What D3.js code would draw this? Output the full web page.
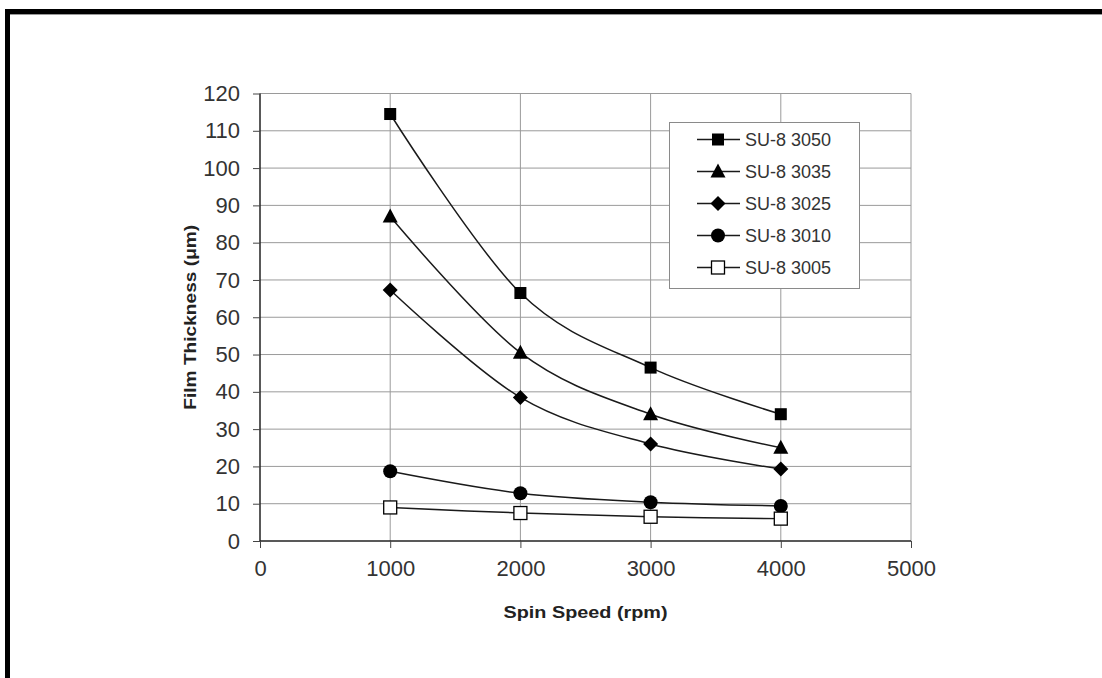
<!DOCTYPE html>
<html>
<head>
<meta charset="utf-8">
<script src="https://cdn.jsdelivr.net/npm/d3@7"></script>
<style>
  body { margin: 0; background: #fff; }
  svg { display: block; }
  text { font-family: "Liberation Sans", Arial, sans-serif; }
</style>
</head>
<body>
<script>
// spin speed values (rpm)
var speeds = [1000, 2000, 3000, 4000];

// film thickness (um) for each resist
var su3050 = [114.5, 66.5, 46.5, 34];
var su3035 = [87, 50.5, 34, 25];
var su3025 = [67.3, 38.5, 26, 19.3];
var su3010 = [18.7, 12.8, 10.4, 9.4];
var su3005 = [9, 7.5, 6.5, 6];

var seriesNames = ["SU-8 3050", "SU-8 3035", "SU-8 3025", "SU-8 3010", "SU-8 3005"];
var seriesMarkers = ["square", "triangle", "diamond", "circle", "open"];

var xTicks = [0, 1000, 2000, 3000, 4000, 5000];
var yTicks = d3.range(0, 121, 10);

window.onload = drawChart();

function drawChart(){

    var width = 1102,
        height = 678;

    var svg = d3.select("body")
      .append("svg")
      .attr("width", width)
      .attr("height", height);

    // page frame (left and top edge of scanned page)
    svg.append("rect").attr("x", 5).attr("y", 9).attr("width", 5).attr("height", height).attr("fill", "#000");
    svg.append("rect").attr("x", 5).attr("y", 9).attr("width", width).attr("height", 5).attr("fill", "#000");
    svg.append("line").attr("x1", 10).attr("x2", width).attr("y1", 14.5).attr("y2", 14.5)
      .attr("stroke", "#999").attr("stroke-width", 1);

    var x = d3.scaleLinear().domain([0, 5000]).range([260, 911]);
    var y = d3.scaleLinear().domain([0, 120]).range([541, 93.5]);

    // grid lines
    svg.append("g")
      .selectAll("line.h")
      .data(yTicks.slice(1))
      .enter()
      .append("line")
      .attr("x1", x(0)).attr("x2", x(5000))
      .attr("y1", function(d){ return y(d); })
      .attr("y2", function(d){ return y(d); })
      .attr("stroke", "#9a9a9a")
      .attr("stroke-width", 1);

    svg.append("g")
      .selectAll("line.v")
      .data(xTicks.slice(1))
      .enter()
      .append("line")
      .attr("x1", function(d){ return x(d); })
      .attr("x2", function(d){ return x(d); })
      .attr("y1", y(0)).attr("y2", y(120))
      .attr("stroke", "#9a9a9a")
      .attr("stroke-width", 1);

    // axes
    var yAxis = d3.axisLeft(y).tickValues(yTicks).tickSize(7).tickPadding(13);
    var xAxis = d3.axisBottom(x).tickValues(xTicks).tickFormat(d3.format("d")).tickSize(7).tickPadding(12);

    var gy = svg.append("g").attr("transform", "translate(" + x(0) + ",0)").call(yAxis);
    var gx = svg.append("g").attr("transform", "translate(0," + y(0) + ")").call(xAxis);

    [gx, gy].forEach(function(g){
        g.select(".domain").attr("stroke", "#222").attr("stroke-width", 1.5);
        g.selectAll(".tick line").attr("stroke", "#444").attr("stroke-width", 1);
        g.selectAll(".tick text")
          .attr("font-size", 22)
          .attr("fill", "#333")
          .style("font-family", "'Liberation Sans', Arial, sans-serif");
    });
    gx.select(".domain").attr("d", "M" + x(0) + ",0H" + x(5000));
    gy.select(".domain").attr("d", "M0," + y(0) + "V" + y(120));

    // axis titles
    svg.append("text")
      .attr("x", (x(0) + x(5000)) / 2)
      .attr("y", 618)
      .attr("text-anchor", "middle")
      .attr("font-size", 17)
      .attr("font-weight", "bold")
      .attr("fill", "#222")
      .attr("textLength", 164)
      .attr("lengthAdjust", "spacingAndGlyphs")
      .text("Spin Speed (rpm)");

    svg.append("text")
      .attr("transform", "translate(196," + ((y(0) + y(120)) / 2) + ") rotate(-90)")
      .attr("text-anchor", "middle")
      .attr("font-size", 17)
      .attr("font-weight", "bold")
      .attr("fill", "#222")
      .attr("textLength", 185)
      .attr("lengthAdjust", "spacingAndGlyphs")
      .text("Film Thickness (\u03bcm)");

    // series
    var allSeries = [su3050, su3035, su3025, su3010, su3005];

    var line = d3.line()
      .x(function(d, i){ return x(speeds[i]); })
      .y(function(d){ return y(d); })
      .curve(d3.curveCardinal.tension(0));

    svg.append("g")
      .selectAll("path")
      .data(allSeries)
      .enter()
      .append("path")
      .attr("d", line)
      .attr("fill", "none")
      .attr("stroke", "#1a1a1a")
      .attr("stroke-width", 1.5);

    function drawMarker(g, kind, cx, cy){
        if (kind === "square") {
            g.append("rect").attr("x", cx - 6).attr("y", cy - 6).attr("width", 12).attr("height", 12).attr("fill", "#000");
        } else if (kind === "open") {
            g.append("rect").attr("x", cx - 6.5).attr("y", cy - 6.5).attr("width", 13).attr("height", 13)
              .attr("fill", "#fff").attr("stroke", "#000").attr("stroke-width", 1.3);
        } else if (kind === "triangle") {
            g.append("path").attr("d", "M" + cx + "," + (cy - 8) + "L" + (cx + 7.5) + "," + (cy + 6) + "L" + (cx - 7.5) + "," + (cy + 6) + "Z").attr("fill", "#000");
        } else if (kind === "diamond") {
            g.append("path").attr("d", "M" + cx + "," + (cy - 7.5) + "L" + (cx + 7.5) + "," + cy + "L" + cx + "," + (cy + 7.5) + "L" + (cx - 7.5) + "," + cy + "Z").attr("fill", "#000");
        } else {
            g.append("circle").attr("cx", cx).attr("cy", cy).attr("r", 7).attr("fill", "#000");
        }
    }

    var markers = svg.append("g");
    allSeries.forEach(function(s, k){
        s.forEach(function(v, i){
            drawMarker(markers, seriesMarkers[k], x(speeds[i]), y(v));
        });
    });

    // legend
    var legend = svg.append("g");
    legend.append("rect")
      .attr("x", 669.5).attr("y", 122.5)
      .attr("width", 190).attr("height", 166)
      .attr("fill", "#fff")
      .attr("stroke", "#8a8a8a")
      .attr("stroke-width", 1);

    seriesNames.forEach(function(name, k){
        var ly = 139.5 + k * 32;
        legend.append("line")
          .attr("x1", 697).attr("x2", 740)
          .attr("y1", ly).attr("y2", ly)
          .attr("stroke", "#1a1a1a").attr("stroke-width", 1.5);
        drawMarker(legend, seriesMarkers[k], 718, ly);
        legend.append("text")
          .attr("x", 745).attr("y", ly + 6.5)
          .attr("font-size", 18)
          .attr("fill", "#333")
          .text(name);
    });
};
</script>
</body>
</html>
